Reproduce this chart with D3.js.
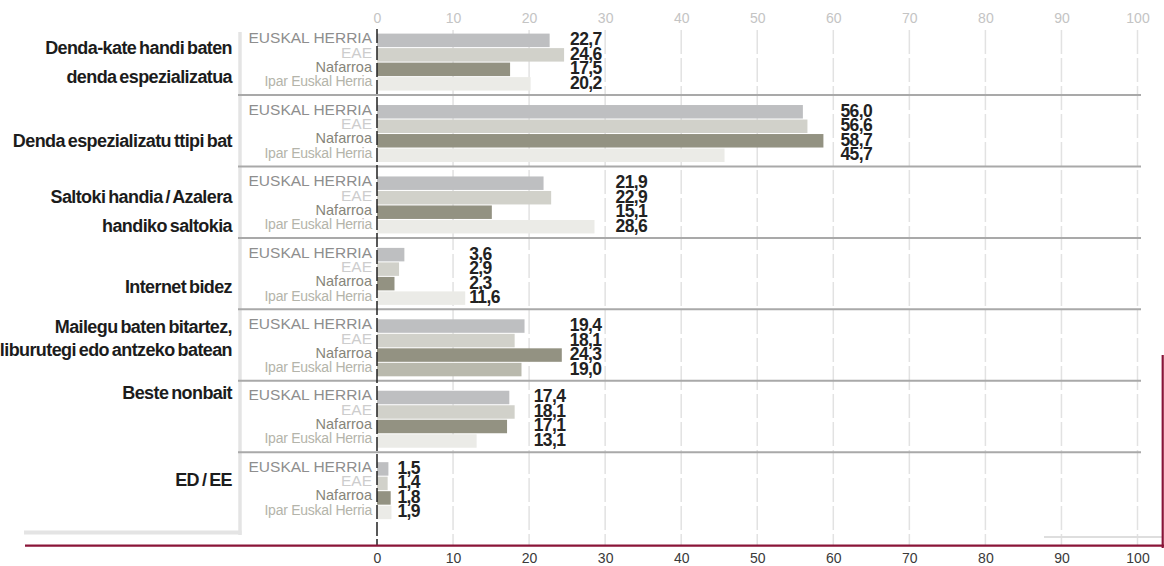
<!DOCTYPE html>
<html>
<head>
<meta charset="utf-8">
<script src="https://cdn.jsdelivr.net/npm/d3@7/dist/d3.min.js"></script>
<style>
  html, body { margin: 0; padding: 0; background: #fff; }
  svg { display: block; font-family: "Liberation Sans", Arial, sans-serif; }
</style>
</head>
<body>
<svg id="chart" width="1164" height="566"></svg>
<script>
// Where people get their books (%), by territory
const categories = [
  "Denda-kate handi baten\ndenda espezializatua",
  "Denda espezializatu ttipi bat",
  "Saltoki handia / Azalera\nhandiko saltokia",
  "Internet bidez",
  "Mailegu baten bitartez,\nliburutegi edo antzeko batean",
  "Beste nonbait",
  "ED / EE"
];
const seriesNames = ["EUSKAL HERRIA", "EAE", "Nafarroa", "Ipar Euskal Herria"];
const euskalHerria = [22.7, 56.0, 21.9, 3.6, 19.4, 17.4, 1.5];
const eae          = [24.6, 56.6, 22.9, 2.9, 18.1, 18.1, 1.4];
const nafarroa     = [17.5, 58.7, 15.1, 2.3, 24.3, 17.1, 1.8];
const ipar         = [20.2, 45.7, 28.6, 11.6, 19.0, 13.1, 1.9];
const tickValues   = [0, 10, 20, 30, 40, 50, 60, 70, 80, 90, 100];

const seriesValues = [euskalHerria, eae, nafarroa, ipar];

// Styling per series
const barColors     = ["#bebfc1", "#d1d1ca", "#939282", "#ebebe7"];
const labelColors   = ["#8e8e8e", "#cdcdcd", "#86857a", "#b4b4aa"];
const labelSizes    = [15.5, 15.5, 14.5, 14];
const labelTracking = [0, 0, 0, -0.25];

// Layout of the category captions inside each group (offset of first line, line gap)
const captionOffset = [24.5, 46, 31, 49, 17.5, 12.5, 28];
const captionGap    = [28.5, 0, 28.5, 0, 23, 0, 0];
// Horizontal gap between the longest bar of a group and its value column
const valueGap      = [6, 17, 21, 4, 8, 19, 6];

const svg = d3.select("#chart");

const x = d3.scaleLinear().domain([0, 100]).range([377, 1137.5]);
const y = d3.scaleBand().domain(d3.range(categories.length)).range([23.6, 523.6]).padding(0);
const yInner = d3.scaleBand().domain(d3.range(seriesNames.length)).range([10, 67]).paddingInner(0.07);

const fmt = v => d3.format(".1f")(v).replace(".", ",");

// Left frame
svg.append("line").attr("x1", 240).attr("x2", 240).attr("y1", 32).attr("y2", 535)
  .attr("stroke", "#e4e4e4").attr("stroke-width", 3.5);
svg.append("line").attr("x1", 24).attr("x2", 241.5).attr("y1", 532.5).attr("y2", 532.5)
  .attr("stroke", "#e4e4e4").attr("stroke-width", 4);

// Vertical gridlines
svg.append("g").selectAll("line").data(tickValues.filter(d => d > 0)).join("line")
  .attr("x1", d => x(d)).attr("x2", d => x(d))
  .attr("y1", 30).attr("y2", 545)
  .attr("stroke", "#e2e2e2").attr("stroke-width", 1.5)
  .attr("stroke-dasharray", "24,4");

// Group separators
svg.append("g").selectAll("line").data(d3.range(1, categories.length)).join("line")
  .attr("x1", 238).attr("x2", 1141)
  .attr("y1", i => y(i)).attr("y2", i => y(i))
  .attr("stroke", "#a9a9a9").attr("stroke-width", 2);

// Bars
const groups = svg.append("g").selectAll("g").data(categories).join("g")
  .attr("transform", (d, i) => `translate(0,${y(i)})`);

groups.each(function(cat, ci) {
  const g = d3.select(this);
  const rows = seriesNames.map((s, si) => ({ s, si, v: seriesValues[si][ci] }));

  g.selectAll("rect").data(rows).join("rect")
    .attr("x", x(0))
    .attr("y", d => yInner(d.si))
    .attr("width", d => x(d.v) - x(0))
    .attr("height", yInner.bandwidth())
    // the library-loan group shows the Ipar Euskal Herria bar in a darker tone
    .attr("fill", d => (ci === 4 && d.si === 3) ? "#b9b9ad" : barColors[d.si]);

  // Series names left of the zero line
  g.selectAll("text.series").data(rows).join("text")
    .attr("class", "series")
    .attr("x", 372)
    .attr("y", d => yInner(d.si) + yInner.bandwidth() / 2 - 2.5)
    .attr("text-anchor", "end")
    .attr("dominant-baseline", "central")
    .attr("font-size", d => labelSizes[d.si])
    .attr("letter-spacing", d => labelTracking[d.si])
    .attr("fill", d => labelColors[d.si])
    .text(d => d.s);

  // Value column
  const maxV = d3.max(rows, d => d.v);
  g.selectAll("text.value").data(rows).join("text")
    .attr("class", "value")
    .attr("x", x(maxV) + valueGap[ci])
    .attr("y", d => yInner(d.si) + yInner.bandwidth() / 2 - 1)
    .attr("dominant-baseline", "central")
    .attr("font-size", 17.5)
    .attr("font-weight", "bold")
    .attr("letter-spacing", -0.6)
    .attr("fill", "#222")
    .text(d => fmt(d.v));

  // Category caption
  const lines = cat.split("\n");
  g.selectAll("text.cat").data(lines).join("text")
    .attr("class", "cat")
    .attr("x", 232)
    .attr("y", (d, li) => captionOffset[ci] + li * captionGap[ci])
    .attr("text-anchor", "end")
    .attr("dominant-baseline", "central")
    .attr("font-size", 18)
    .attr("font-weight", "bold")
    .attr("letter-spacing", -0.6)
    .attr("word-spacing", -1.5)
    .attr("fill", "#1c1c1c")
    .text(d => d);
});

// Zero line
svg.append("line").attr("x1", x(0)).attr("x2", x(0)).attr("y1", 29).attr("y2", 546)
  .attr("stroke", "#222").attr("stroke-width", 1.5).attr("stroke-dasharray", "14,3");

// Top axis labels
const topAxis = d3.axisTop(x).tickValues(tickValues).tickSize(0).tickPadding(0).tickFormat(d3.format("d"));
svg.append("g").attr("transform", "translate(0,23)").call(topAxis)
  .call(g => g.select(".domain").remove())
  .call(g => g.selectAll("text").attr("font-size", 14).attr("fill", "#c4c4c4")
    .attr("font-family", "'Liberation Sans', Arial, sans-serif"));

// Bottom axis labels
const bottomAxis = d3.axisBottom(x).tickValues(tickValues).tickSize(0).tickPadding(0).tickFormat(d3.format("d"));
svg.append("g").attr("transform", "translate(0,553)").call(bottomAxis)
  .call(g => g.select(".domain").remove())
  .call(g => g.selectAll("text").attr("font-size", 14).attr("fill", "#3a3a3a")
    .attr("font-family", "'Liberation Sans', Arial, sans-serif"));

// Frame lines at the bottom right
svg.append("line").attr("x1", 1044).attr("x2", 1163).attr("y1", 537).attr("y2", 537)
  .attr("stroke", "#dedede").attr("stroke-width", 2);
svg.append("line").attr("x1", 25).attr("x2", 1164).attr("y1", 545.7).attr("y2", 545.7)
  .attr("stroke", "#8a1538").attr("stroke-width", 2.2);
svg.append("line").attr("x1", 1162.7).attr("x2", 1162.7).attr("y1", 355).attr("y2", 548)
  .attr("stroke", "#8a1538").attr("stroke-width", 2.2);
</script>
</body>
</html>
